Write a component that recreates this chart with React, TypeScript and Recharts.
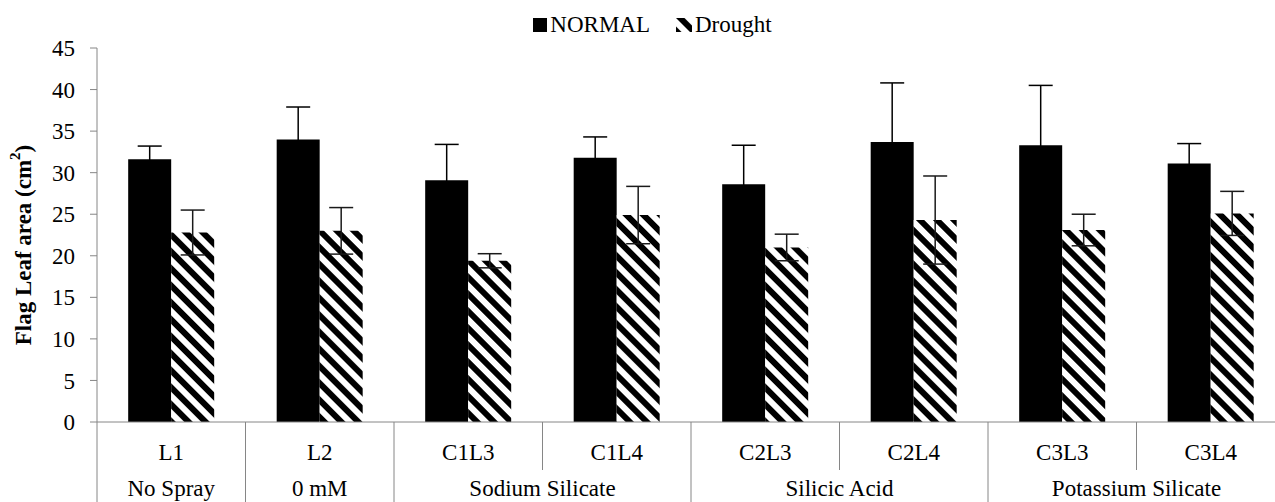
import React from 'react';
import { BarChart, Bar, XAxis, YAxis, ErrorBar, Legend } from 'recharts';

const categories = ['L1', 'L2', 'C1L3', 'C1L4', 'C2L3', 'C2L4', 'C3L3', 'C3L4'];
const normalValues = [31.6, 34.0, 29.1, 31.8, 28.6, 33.7, 33.3, 31.1];
const normalErrors = [1.6, 3.9, 4.3, 2.5, 4.7, 7.1, 7.2, 2.4];
const droughtValues = [22.8, 23.0, 19.4, 24.9, 21.0, 24.3, 23.1, 25.1];
const droughtErrors = [2.7, 2.8, 0.85, 3.45, 1.6, 5.3, 1.9, 2.65];
const groupNames = ['No Spray', '0 mM', 'Sodium Silicate', 'Silicic Acid', 'Potassium Silicate'];
const groupSpans = [1, 1, 2, 2, 2];
const yTicks = [0, 5, 10, 15, 20, 25, 30, 35, 40, 45];

const FONT = '"Liberation Serif", "Times New Roman", serif';
const AXIS_COLOR = '#868686';

const data = categories.map((name, i) => ({
  name,
  normal: normalValues[i],
  normalErr: normalErrors[i],
  drought: droughtValues[i],
  droughtErr: droughtErrors[i],
}));

// index of the first category in each group
const groupStarts: number[] = [];
groupSpans.reduce((acc, span) => {
  groupStarts.push(acc);
  return acc + span;
}, 0);

const CategoryTick = (props: any) => {
  const { x, y, payload } = props;
  const half = payload.offset || 74;
  const i = payload.index ?? props.index;
  const left = x - half;
  const g = groupStarts.indexOf(i);
  const isLast = i === categories.length - 1;
  return (
    <g>
      <line x1={left} x2={left} y1={y} y2={y + (g >= 0 ? 110 : 48)} stroke={AXIS_COLOR} />
      {isLast && <line x1={x + half} x2={x + half} y1={y} y2={y + 110} stroke={AXIS_COLOR} />}
      <text x={x} y={y + 38} textAnchor="middle" fontSize={23} fontFamily={FONT} fill="#000">
        {payload.value}
      </text>
      {g >= 0 && (
        <text
          x={left + groupSpans[g] * half}
          y={y + 74}
          textAnchor="middle"
          fontSize={23}
          fontFamily={FONT}
          fill="#000"
        >
          {groupNames[g]}
        </text>
      )}
    </g>
  );
};

const YTitle = (props: any) => {
  const vb = props.viewBox || { x: 0, y: 48, width: 97, height: 374 };
  const cx = 23;
  const cy = vb.y + vb.height / 2 + 10;
  return (
    <text
      x={cx}
      y={cy}
      transform={`rotate(-90, ${cx}, ${cy})`}
      textAnchor="middle"
      dominantBaseline="central"
      fontSize={23}
      fontWeight="bold"
      fontFamily={FONT}
      fill="#000"
    >
      Flag Leaf area (cm
      <tspan dy={-8} fontSize={15}>2</tspan>
      <tspan dy={8}>)</tspan>
    </text>
  );
};

const LegendContent = () => (
  <div
    style={{
      display: 'flex',
      justifyContent: 'center',
      alignItems: 'center',
      fontFamily: FONT,
      fontSize: 23,
      color: '#000',
      lineHeight: '26px',
    }}
  >
    <span style={{ display: 'inline-block', width: 14, height: 14, background: '#000', marginRight: 3 }} />
    <span>NORMAL</span>
    <svg width={16} height={14} style={{ marginLeft: 26, marginRight: 3 }}>
      <rect x={0} y={0} width={16} height={14} fill="url(#hatch)" />
    </svg>
    <span>Drought</span>
  </div>
);

export default function App() {
  return (
    <div
      style={{
        position: 'absolute',
        left: 0,
        top: 0,
        width: 1275,
        height: 502,
        overflow: 'hidden',
        background: '#fff',
      }}
    >
      <svg width={0} height={0} style={{ position: 'absolute' }}>
        <defs>
          <pattern id="hatch" patternUnits="userSpaceOnUse" width={12} height={12} patternTransform="rotate(-45)">
            <rect x={0} y={0} width={12} height={12} fill="#fff" />
            <rect x={0} y={0} width={6} height={12} fill="#000" />
          </pattern>
        </defs>
      </svg>
      <BarChart
        width={1300}
        height={532}
        data={data}
        margin={{ top: 48, right: 15, left: 0, bottom: 0 }}
        barCategoryGap="21%"
        barGap={0}
      >
        <Legend
          layout="horizontal"
          verticalAlign="middle"
          align="center"
          content={<LegendContent />}
          wrapperStyle={{ top: 12, left: 0, width: 1305, height: 26 }}
        />
        <XAxis
          dataKey="name"
          interval={0}
          height={110}
          tickSize={0}
          tickMargin={0}
          tickLine={false}
          axisLine={{ stroke: AXIS_COLOR }}
          tick={<CategoryTick />}
        />
        <YAxis
          width={97}
          domain={[0, 45]}
          ticks={yTicks}
          interval={0}
          tickSize={7}
          tickMargin={15}
          axisLine={{ stroke: AXIS_COLOR }}
          tickLine={{ stroke: AXIS_COLOR }}
          tick={{ fontSize: 23, fontFamily: FONT, fill: '#000' }}
          label={{ content: <YTitle /> }}
        />
        <Bar dataKey="normal" fill="#000" isAnimationActive={false}>
          <ErrorBar dataKey="normalErr" width={12} stroke="#000" strokeWidth={1.5} direction="y" isAnimationActive={false} />
        </Bar>
        <Bar dataKey="drought" fill="url(#hatch)" isAnimationActive={false}>
          <ErrorBar dataKey="droughtErr" width={12} stroke="#1a1a1a" strokeWidth={1.5} direction="y" isAnimationActive={false} />
        </Bar>
      </BarChart>
    </div>
  );
}
